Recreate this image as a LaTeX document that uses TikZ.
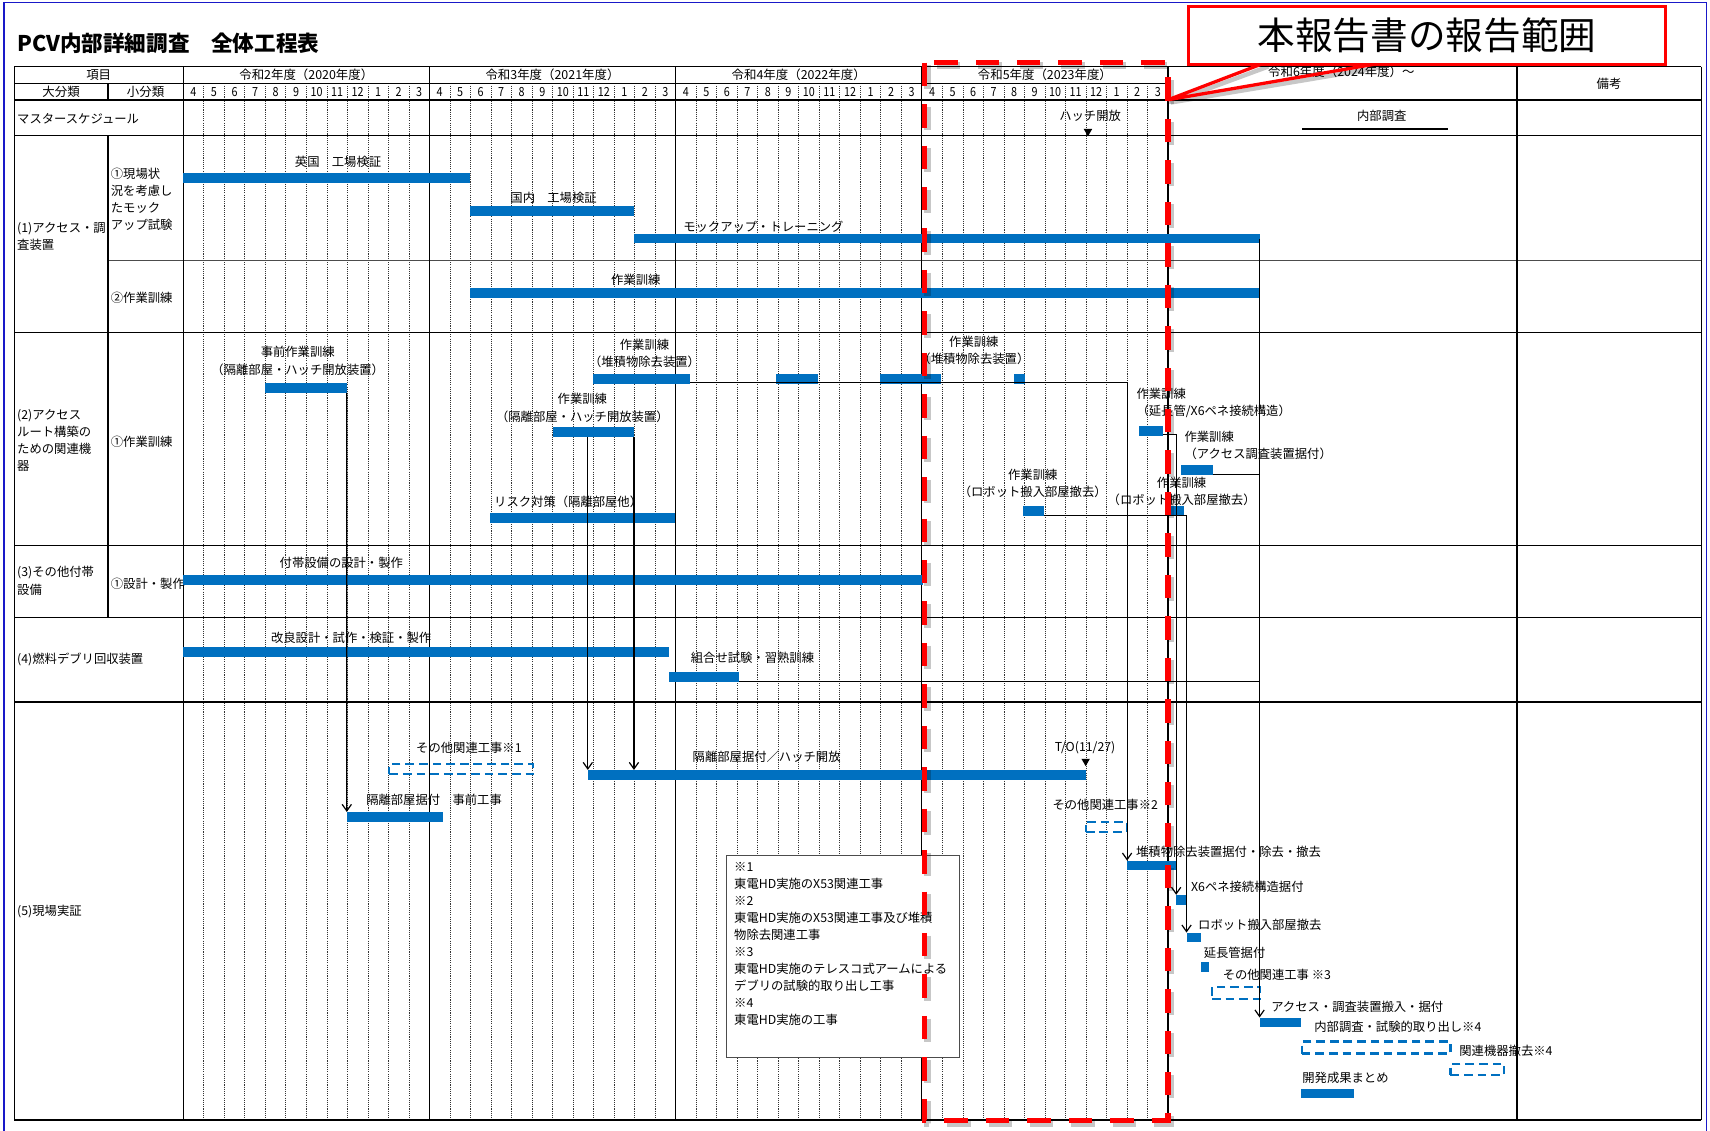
\documentclass[tikz,border=0pt]{standalone}
\usepackage{fontspec}
\setmainfont{Noto Sans CJK JP}
\newfontfamily\hdrfont{Noto Sans CJK JP}[FakeStretch=0.86]
\usetikzlibrary{arrows.meta,shapes.geometric}
\definecolor{barblue}{RGB}{0,112,192}
\definecolor{frameblue}{RGB}{25,25,200}
\newcommand\lblfont{\fontsize{11.3}{15.5}\selectfont}
\newcommand\mx[1]{168+(#1)*18.8125}
% bar: name, x-start, x-end, y-centre
\newcommand\gbar[4]{\node[gbarstyle, anchor=west, minimum width={(#3-#2)*1pt}] (#1) at (#2,#4) {};}
% dashed outline: name, x1, x2, y1, y2
\newcommand\gdashed[5]{\node[dbox, anchor=north west, minimum width={(#3-#2)*1pt}, minimum height={(#5-#4)*1pt}] (#1) at (#2,#4) {};}
\tikzset{
  rule/.style={line width=1.1pt, black},
  mline/.style={line width=0.6pt, black!80, dash pattern=on 1pt off 1pt},
  gbarstyle/.style={fill=barblue, inner sep=0pt, minimum height=9pt, outer sep=0pt},
  dbox/.style={draw=barblue, dash pattern=on 8pt off 4.5pt, line width=1.9pt, inner sep=0pt, outer sep=0pt},
  lbl/.style={inner sep=0pt, font=\lblfont},
  hdr/.style={inner sep=0pt, font=\hdrfont\fontsize{11.5}{13}\selectfont},
  yearhdr/.style={inner sep=0pt, font=\fontsize{11.4}{13}\selectfont},
  conn/.style={line width=1.1pt, black},
  arr/.style={conn, -{Straight Barb[length=6pt,width=8.5pt]}},
  tri/.style={regular polygon, regular polygon sides=3, shape border rotate=180, fill=black, inner sep=0pt, minimum size=9pt},
  reddash/.style={draw=red, line width=4.8pt, dash pattern=on 21.5pt off 16.5pt},
  shade/.style={draw=black, opacity=0.22, line width=6.5pt}
}
\begin{document}
\begin{tikzpicture}[x=1pt, y=-1pt]
\useasboundingbox (0,0) rectangle (1568,1037);
\fill[white] (0,0) rectangle (1568,1037);

% ---------- title ----------
\node[anchor=west, inner sep=0pt, font=\bfseries\fontsize{19.8}{22}\selectfont] (title) at (15.6,39.7) {PCV内部詳細調査　全体工程表};

% ---------- month grid ----------
\foreach \i in {1,...,47}{
  \pgfmathtruncatemacro\r{mod(\i,12)}
  \ifnum\r=0\relax\else
    \draw[mline] ({\mx{\i}},76.4) -- ({\mx{\i}},1027);
  \fi
}

% ---------- table rules ----------
\draw[rule] (13,61) -- (1560,61);
\draw[rule] (13,76.4) -- (1071,76.4);
\draw[rule] (13,91.7) -- (1560,91.7);
\draw[rule] (13,124.5) -- (1560,124.5);
\draw[line width=0.8pt, black!70] (99,239) -- (1560,239);
\foreach \yy in {304.6,500.3,566.3,643.7}{\draw[rule] (13,\yy) -- (1560,\yy);}
\draw[rule] (13,1027) -- (1560,1027);
\foreach \xx in {13,168,393.75,619.5,845.25,1071,1391,1560}{\draw[rule] (\xx,61) -- (\xx,1027);}
\draw[rule] (99,76.4) -- (99,91.7);
\draw[rule] (99,124.5) -- (99,566.3);

% ---------- header ----------
\node[yearhdr] (hitem) at (90.5,68.5) {項目};
\node[yearhdr] (hbig) at (56,84.5) {大分類};
\node[yearhdr] (hsmall) at (133.5,84.5) {小分類};
\foreach \t [count=\k from 0] in {令和2年度（2020年度）,令和3年度（2021年度）,令和4年度（2022年度）,令和5年度（2023年度）}{
  \node[yearhdr] (fy\k) at ({\mx{\k*12+6}},68.5) {\t};
}
\foreach \yr in {0,1,2,3}{
  \foreach \m [count=\k from 0] in {4,5,6,7,8,9,10,11,12,1,2,3}{
    \node[hdr] (mo\yr-\k) at ({\mx{\yr*12+\k+0.5}},84.5) {\m};
  }
}
\node[yearhdr] (fy4) at (1230,66) {令和6年度（2024年度）～};
\node[yearhdr] (hnote) at (1475.5,77) {備考};

% ---------- row headings ----------
\node[lbl, anchor=west] (rmaster) at (15.6,108.5) {マスタースケジュール};
\node[lbl, anchor=west, align=left] (r1) at (15.6,217) {(1)アクセス・調\\査装置};
\node[lbl, anchor=west, align=left, font=\fontsize{11.3}{15.6}\selectfont] (r1a) at (101.5,183) {①現場状\\況を考慮し\\たモック\\アップ試験};
\node[lbl, anchor=west] (r1b) at (101.5,273.5) {②作業訓練};
\node[lbl, anchor=west, align=left, font=\fontsize{11.3}{15.6}\selectfont] (r2) at (15.6,404) {(2)アクセス\\ルート構築の\\ための関連機\\器};
\node[lbl, anchor=west] (r2a) at (101.5,405) {①作業訓練};
\node[lbl, anchor=west, align=left, font=\fontsize{11.3}{16.5}\selectfont] (r3) at (15.6,533) {(3)その他付帯\\設備};
\node[lbl, anchor=west] (r3a) at (101.5,535) {①設計・製作};
\node[lbl, anchor=west] (r4) at (15.6,605) {(4)燃料デブリ回収装置};
\node[lbl, anchor=west] (r5) at (15.6,836) {(5)現場実証};

% ---------- master schedule ----------
\node[lbl] (lhatchopen) at (999.6,106) {ハッチ開放};
\node[tri] (thatchopen) at (997.6,120.5) {};
\node[lbl] (linner) at (1267,106) {内部調査};
\draw[line width=2.1pt] (1194,118.6) -- (1328,118.6);

% ---------- notes box ----------
\node[draw=black!70, line width=0.8pt, fill=white, anchor=north west, minimum width=214pt, minimum height=185.3pt, inner sep=0pt] (notes) at (665.4,783.7) {};
\foreach \t [count=\k from 0] in {※1,東電HD実施のX53関連工事,※2,東電HD実施のX53関連工事及び堆積,物除去関連工事,※3,東電HD実施のテレスコ式アームによる,デブリの試験的取り出し工事,※4,東電HD実施の工事}{
  \node[lbl, anchor=west] (note\k) at (673,{794.7+\k*15.6}) {\t};
}

% ---------- bars ----------
\gbar{buk}{168}{431}{163}
\gbar{bjp}{431}{581.5}{193.2}
\gbar{bmock}{581.5}{1155}{218.7}
\gbar{btr}{431}{1155}{268.6}
\gbar{bpre}{242.7}{318}{355.7}
\gbar{bdepa}{543.7}{632.4}{347.2}
\gbar{bdepb}{712}{750}{347.2}
\gbar{bdepc}{807}{863}{347.2}
\gbar{bdepd}{929.6}{939.8}{347.2}
\gbar{biso}{506.8}{581.3}{396.1}
\gbar{brisk}{449.6}{619}{475.1}
\gbar{broba}{938}{957.6}{468.8}
\gbar{bext}{1044.2}{1066.4}{395}
\gbar{btacc}{1082.5}{1112}{431}
\gbar{brobb}{1072.8}{1085.4}{468.8}
\gbar{bfac}{168}{846}{531.7}
\gbar{bimp}{168}{613}{597.5}
\gbar{bcomb}{613}{677.4}{621}
\gbar{bprework}{318}{406}{749}
\gbar{bhatch}{539}{995.5}{710.5}
\gbar{bdepwork}{1033.5}{1078.5}{793.6}
\gbar{bxsix}{1078.5}{1088}{825}
\gbar{brobwork}{1088}{1101}{859.6}
\gbar{bextwork}{1101}{1108.3}{887}
\gbar{bacc}{1155}{1193}{937.5}
\gbar{bsum}{1193}{1242}{1002.7}

% ---------- dashed (other parties' work) ----------
\gdashed{dwa}{357}{488.7}{700.5}{709.7}
\gdashed{dwb}{995.6}{1033}{753.4}{762.6}
\gdashed{dwc}{1111.4}{1155.7}{905}{916}
\gdashed{dwd}{1193.6}{1330}{955}{966}
\gdashed{dwe}{1330}{1379.5}{975.6}{985.7}

% ---------- connectors ----------
\draw[arr] (bmock.east) -- (bacc.north west);
\draw[conn] ([yshift=0.6pt]btacc.south east) -- ([yshift=0.6pt]btacc.south east -| bmock.east);
\draw[conn] ([yshift=0.6pt]bcomb.south east) -- ([yshift=0.6pt]bcomb.south east -| bmock.east);
\draw[arr] (bpre.south east) -- (bprework.north west);
\draw[arr] (biso.south east) -- (biso.south east |- bhatch.north);
\draw[arr] (biso.south -| bhatch.west) -- (bhatch.north west);
\draw[arr] ([yshift=0.8pt]bdepa.south east) -| (bdepwork.north west);
\draw[arr] ([yshift=0.8pt]broba.south east) -| (brobwork.north west);
\draw[arr] ([yshift=0.8pt]bext.south east) -| (bxsix.north west);

% ---------- bar labels ----------
\node[lbl] (luk) at (310,148) {英国　工場検証};
\node[lbl] (ljp) at (507.6,181.7) {国内　工場検証};
\node[lbl] (lmock) at (700,208) {モックアップ・トレーニング};
\node[lbl] (ltr) at (583,256.7) {作業訓練};
\node[lbl, align=center, font=\fontsize{11.3}{16.3}\selectfont] (lpre) at (273,331) {事前作業訓練\\（隔離部屋・ハッチ開放装置）};
\node[lbl, align=center] (ldepa) at (591,324) {作業訓練\\（堆積物除去装置）};
\node[lbl, align=center] (ldepb) at (893,321.4) {作業訓練\\（堆積物除去装置）};
\node[lbl, align=center, font=\fontsize{11.3}{16.1}\selectfont] (liso) at (534,374) {作業訓練\\（隔離部屋・ハッチ開放装置）};
\node[lbl] (lrisk) at (521,460) {リスク対策（隔離部屋他）};
\node[lbl, align=center] (lroba) at (947,443) {作業訓練\\（ロボット搬入部屋撤去）};
\node[lbl, align=left, anchor=west] (lext) at (1042,369.7) {作業訓練\\（延長管/X6ペネ接続構造）};
\node[lbl, align=left, anchor=west] (ltacc) at (1086,408) {作業訓練\\（アクセス調査装置据付）};
\node[lbl, align=center, font=\fontsize{11.3}{15.9}\selectfont] (lrobb) at (1083.5,450.5) {作業訓練\\（ロボット搬入部屋撤去）};
\node[lbl] (lfac) at (313,516.5) {付帯設備の設計・製作};
\node[lbl] (limp) at (322,585) {改良設計・試作・検証・製作};
\node[lbl] (lcomb) at (690,603.6) {組合せ試験・習熟訓練};
\node[lbl] (lwa) at (430,686) {その他関連工事※1};
\node[lbl] (lhatch) at (703,693.8) {隔離部屋据付／ハッチ開放};
\node[lbl] (lto) at (995,686) {T/O(11/27)};
\node[tri] (tto) at (995.5,698) {};
\node[lbl] (lprework) at (398,733.5) {隔離部屋据付　事前工事};
\node[lbl, anchor=east] (lwb) at (1062,738) {その他関連工事※2};
\node[lbl, anchor=west] (ldepwork) at (1041.6,781) {堆積物除去装置据付・除去・撤去};
\node[lbl, anchor=west] (lxsix) at (1092,813) {X6ペネ接続構造据付};
\node[lbl, anchor=west] (lrobwork) at (1098.5,848) {ロボット搬入部屋撤去};
\node[lbl, anchor=west] (lextwork) at (1103.6,874) {延長管据付};
\node[lbl, anchor=west] (lwc) at (1121,894) {その他関連工事 ※3};
\node[lbl, anchor=west] (lacc) at (1165.5,923) {アクセス・調査装置搬入・据付};
\node[lbl, anchor=west] (lwd) at (1205,941.7) {内部調査・試験的取り出し※4};
\node[lbl, anchor=west] (lwe) at (1338,964) {関連機器撤去※4};
\node[lbl, anchor=west] (lsum) at (1194,988) {開発成果まとめ};

% ---------- reporting-scope frame ----------
\draw[shade, dash pattern=on 21.5pt off 16.5pt] (850.5,60) rectangle (1073.5,1030);
\draw[reddash] (848,57.5) rectangle (1071,1027.5);

% ---------- callout ----------
\coordinate (tip) at (1071,91.5);
\draw[shade, line width=4pt] (1163,61) -- (1073.5,94) -- (1271,61);
\fill[black, opacity=0.2] (1091,8) rectangle (1529,61.5);
\draw[red, line width=3pt, line join=round] (1160,57.5) -- (tip) -- (1268.5,57.5);
\node[draw=red, line width=3pt, fill=white, anchor=north west, minimum width=438pt, minimum height=53pt, inner sep=0pt, font=\fontsize{34.5}{37}\selectfont] (callout) at (1088,4.6) {本報告書の報告範囲};

% ---------- outer frame ----------
\draw[frameblue, line width=1.2pt] (3.8,1037) -- (3.8,2.5) -- (1565,2.5) -- (1565,1037);
\end{tikzpicture}
\end{document}
